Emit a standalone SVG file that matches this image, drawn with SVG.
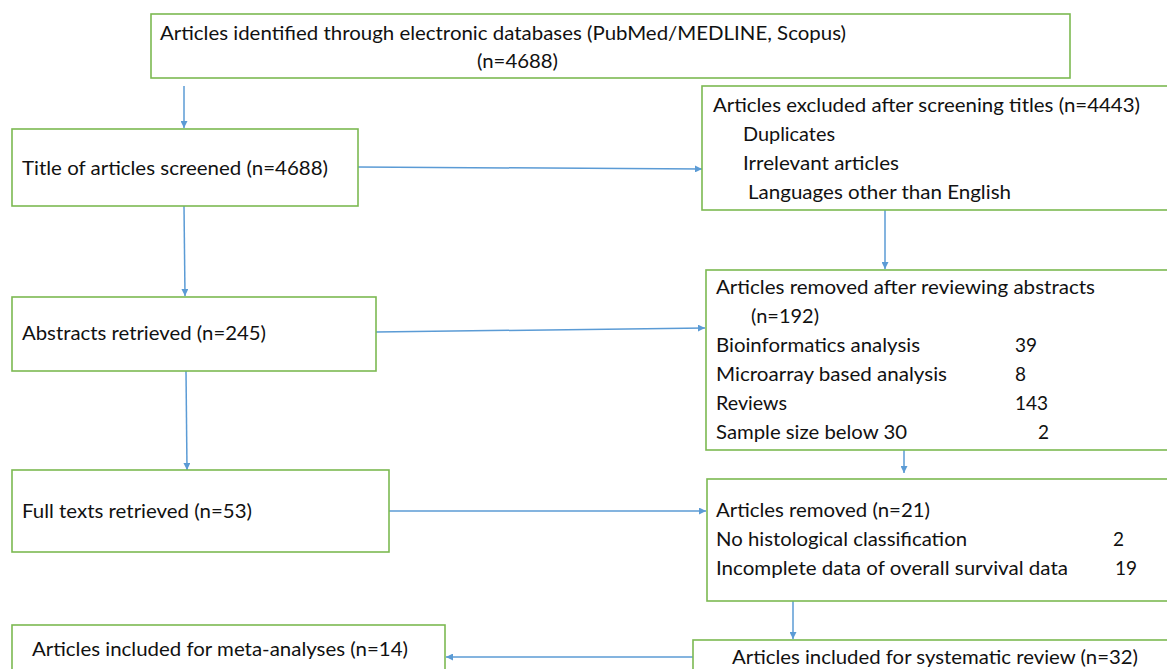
<svg xmlns="http://www.w3.org/2000/svg" width="1167" height="669" viewBox="0 0 1167 669">
<defs>
<marker id="ah" viewBox="0 0 10 10" refX="10" refY="5" markerWidth="7" markerHeight="7" markerUnits="userSpaceOnUse" orient="auto">
<path d="M0,0 L10,5 L0,10 z" fill="#5b9bd5"/>
</marker>
<style>
.box{fill:#ffffff;stroke:#7cb952;stroke-width:1.6}
.t{font-family:Lato,"Open Sans","Liberation Sans",sans-serif;font-size:19px;fill:#111111}
.c{stroke:#5b9bd5;stroke-width:1.5;fill:none;marker-end:url(#ah)}
</style>
</defs>
<rect width="1167" height="669" fill="#ffffff"/>
<g id="connectors">
<line class="c" x1="184" y1="86" x2="184" y2="128"/>
<line class="c" x1="358" y1="167" x2="702" y2="169"/>
<line class="c" x1="184" y1="206" x2="185" y2="296"/>
<line class="c" x1="885" y1="210" x2="885" y2="269"/>
<line class="c" x1="376" y1="332" x2="705" y2="328"/>
<line class="c" x1="186" y1="371" x2="187" y2="470"/>
<line class="c" x1="904" y1="450" x2="904" y2="473"/>
<line class="c" x1="389" y1="511" x2="706" y2="511"/>
<line class="c" x1="793" y1="601" x2="793" y2="639"/>
<line class="c" x1="693" y1="657" x2="446" y2="657"/>
</g>
<g id="n-identified">
<rect class="box" x="151" y="14" width="919" height="64"/>
<text class="t" x="160" y="40" textLength="686" lengthAdjust="spacingAndGlyphs">Articles identified through electronic databases (PubMed/MEDLINE, Scopus)</text>
<text class="t" x="477" y="68" textLength="81" lengthAdjust="spacingAndGlyphs">(n=4688)</text>
</g>
<g id="n-title">
<rect class="box" x="12" y="129" width="346" height="77"/>
<text class="t" x="22" y="175" textLength="306" lengthAdjust="spacingAndGlyphs">Title of articles screened  (n=4688)</text>
</g>
<g id="n-excluded">
<rect class="box" x="702" y="86" width="470" height="124"/>
<text class="t" x="713" y="112" textLength="427" lengthAdjust="spacingAndGlyphs">Articles excluded after screening titles (n=4443)</text>
<text class="t" x="743" y="141" textLength="92" lengthAdjust="spacingAndGlyphs">Duplicates</text>
<text class="t" x="743" y="170" textLength="156" lengthAdjust="spacingAndGlyphs">Irrelevant articles</text>
<text class="t" x="748" y="199" textLength="263" lengthAdjust="spacingAndGlyphs">Languages other than English</text>
</g>
<g id="n-abstracts">
<rect class="box" x="12" y="297" width="364" height="74"/>
<text class="t" x="22" y="340" textLength="244" lengthAdjust="spacingAndGlyphs">Abstracts retrieved (n=245)</text>
</g>
<g id="n-removed-abstracts">
<rect class="box" x="706" y="270" width="466" height="180"/>
<text class="t" x="716" y="294" textLength="379" lengthAdjust="spacingAndGlyphs">Articles removed after reviewing abstracts</text>
<text class="t" x="751" y="323" textLength="68" lengthAdjust="spacingAndGlyphs">(n=192)</text>
<text class="t" x="716" y="352" textLength="204" lengthAdjust="spacingAndGlyphs">Bioinformatics analysis</text>
<text class="t" x="1015" y="352">39</text>
<text class="t" x="716" y="381" textLength="231" lengthAdjust="spacingAndGlyphs">Microarray based analysis</text>
<text class="t" x="1015" y="381">8</text>
<text class="t" x="716" y="410" textLength="71" lengthAdjust="spacingAndGlyphs">Reviews</text>
<text class="t" x="1015" y="410">143</text>
<text class="t" x="716" y="439" textLength="191" lengthAdjust="spacingAndGlyphs">Sample size below 30</text>
<text class="t" x="1038" y="439">2</text>
</g>
<g id="n-fulltexts">
<rect class="box" x="12" y="470" width="377" height="82"/>
<text class="t" x="22" y="518" textLength="230" lengthAdjust="spacingAndGlyphs">Full texts retrieved (n=53)</text>
</g>
<g id="n-removed">
<rect class="box" x="707" y="479" width="465" height="122"/>
<text class="t" x="716" y="517" textLength="214" lengthAdjust="spacingAndGlyphs">Articles removed (n=21)</text>
<text class="t" x="716" y="546" textLength="251" lengthAdjust="spacingAndGlyphs">No histological classification</text>
<text class="t" x="1113" y="546">2</text>
<text class="t" x="716" y="575" textLength="352" lengthAdjust="spacingAndGlyphs">Incomplete data of overall survival data</text>
<text class="t" x="1115" y="575">19</text>
</g>
<g id="n-meta">
<rect class="box" x="12" y="625" width="433" height="60"/>
<text class="t" x="32" y="656" textLength="376" lengthAdjust="spacingAndGlyphs">Articles included for meta-analyses (n=14)</text>
</g>
<g id="n-systematic">
<rect class="box" x="693" y="640" width="479" height="45"/>
<text class="t" x="732" y="664" textLength="406" lengthAdjust="spacingAndGlyphs">Articles included for systematic review (n=32)</text>
</g>
</svg>
